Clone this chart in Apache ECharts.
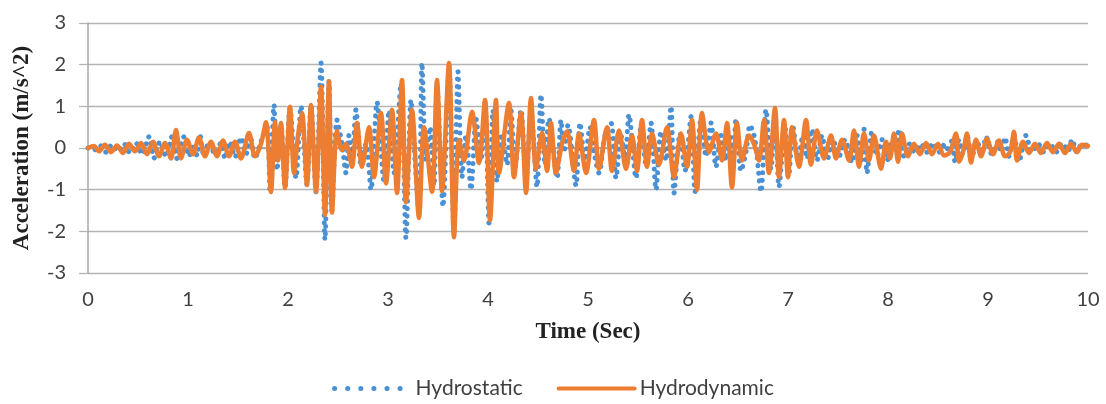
<!DOCTYPE html>
<html><head><meta charset="utf-8">
<script src="https://cdn.jsdelivr.net/npm/echarts@6/dist/echarts.min.js"></script>
<style>html,body{margin:0;padding:0;background:#fff}#c{width:1106px;height:404px}</style>
</head><body><div id="c"></div>
<script>
// Hydrodynamic (orange) turning points: time (s) and acceleration (m/s^2)
const hdTime = [0,0.06,0.11,0.17,0.23,0.29,0.35,0.41,0.47,0.53,0.59,0.65,0.71,0.77,0.83,0.88,0.93,0.99,1.05,1.11,1.17,1.23,1.29,1.35,1.41,1.47,1.53,1.61,
1.67,1.73,1.78,1.83,1.87,1.90,1.93,1.97,2.02,2.06,2.10,2.14,2.19,2.23,2.28,2.33,2.37,2.41,2.44,2.49,
2.54,2.58,2.61,2.64,2.69,2.74,2.81,2.86,2.93,2.98,3.04,3.09,3.14,3.18,3.24,3.31,3.36,3.44,3.49,3.54,3.61,3.66,
3.71,3.76,3.84,3.91,3.97,4.02,4.08,4.11,4.21,4.26,4.33,4.38,4.43,4.48,4.54,4.59,4.63,4.68,4.74,
4.79,4.86,4.91,4.98,5.06,5.11,5.19,5.24,5.31,5.38,5.44,5.49,5.54,5.59,5.64,5.71,5.79,5.86,5.93,5.99,6.04,6.09,6.14,
6.21,6.28,6.34,6.39,6.44,6.49,6.54,6.61,6.66,6.71,6.76,6.81,6.87,6.91,6.96,7.00,7.04,7.11,7.18,7.23,7.29,7.36,7.43,7.48,7.54,7.61,7.66,7.71,7.76,7.81,7.86,7.93,7.98,
8.02,8.06,8.10,8.14,8.20,8.26,8.32,8.38,8.44,8.50,8.56,8.62,8.68,8.71,8.75,8.79,8.83,8.88,8.93,8.99,9.05,9.11,9.17,9.22,9.26,9.29,9.35,9.41,9.47,9.53,9.59,9.65,9.71,9.77,9.83,9.89,9.94,10];
const hdAcc = [0,0.05,-0.08,0.08,-0.1,0.06,-0.12,0.1,-0.08,0.12,-0.15,0.15,-0.2,0.12,-0.25,0.43,-0.25,0.2,-0.15,0.25,-0.2,0.15,-0.2,0.18,-0.2,0.15,-0.25,0.36,
-0.2,0.1,0.62,-1.06,0.62,-0.3,0.6,-0.96,0.99,-0.6,0.3,0.84,-0.89,1.03,-1.05,1.47,-1.6,1.6,-1.55,0.41,
-0.05,0.1,-0.1,-0.45,0.6,-0.45,0.5,-0.7,0.84,-0.85,0.92,-1.08,1.63,-1.3,0.92,-1.68,0.5,-1.05,1.63,-1.03,2.04,-2.14,
0.19,-0.3,0.87,-0.36,1.15,-1.73,1.15,-0.6,1.08,-0.7,0.84,-1.08,1.2,-0.5,0.36,-0.55,0.6,-0.6,0.1,
0.4,-0.55,0.35,-0.6,0.67,-0.5,0.5,-0.55,0.42,-0.5,0.3,-0.55,0.67,-0.45,0.35,-0.4,0.5,-0.7,0.35,-0.45,0.67,-1.0,0.84,
-0.1,0.35,-0.3,0.6,-0.95,0.6,-0.3,0.3,0.1,-0.3,0.67,-0.6,0.96,-0.7,0.67,-0.7,0.5,-0.45,0.67,-0.4,0.42,-0.25,0.3,-0.25,0.2,-0.3,0.42,-0.45,0.35,-0.3,0.3,-0.5,0.15,
-0.25,0.35,-0.33,0.35,-0.2,0.1,-0.15,0.12,-0.15,0.1,-0.18,-0.1,0.35,-0.33,-0.1,0.35,-0.35,0.2,-0.2,0.22,-0.15,0.18,-0.2,-0.1,0.39,-0.3,0.15,-0.12,0.1,-0.12,0.12,-0.1,0.1,-0.12,0.1,-0.1,0.08,0.05];

// Hydrostatic (blue, dotted) turning points
const hsTime = [0,0.06,0.12,0.18,0.24,0.30,0.36,0.42,0.48,0.54,0.61,0.66,0.72,0.78,0.84,0.89,0.96,1.01,1.06,1.09,1.12,1.16,1.21,1.27,1.33,1.37,1.42,1.47,1.53,1.58,1.62,1.67,1.73,
1.79,1.82,1.86,1.89,1.93,1.97,2.02,2.08,2.13,2.19,2.23,2.28,2.33,2.37,2.41,2.44,2.49,
2.54,2.58,2.61,2.64,2.68,2.73,2.78,2.83,2.89,2.96,3.01,3.06,3.13,3.18,3.23,3.27,3.31,3.34,3.38,3.42,3.46,3.49,3.55,3.61,3.66,3.70,3.74,3.78,3.83,3.88,3.93,3.97,4.01,4.05,4.09,4.14,4.19,4.23,4.27,4.33,4.38,4.43,4.49,4.53,4.57,4.61,4.69,4.73,
4.76,4.80,4.88,4.92,4.97,5.02,5.06,5.11,5.17,5.23,5.28,5.33,5.37,5.41,5.48,5.53,5.58,5.63,5.68,5.73,5.78,5.83,5.86,5.92,5.97,6.03,6.07,6.13,6.18,6.23,6.28,6.33,6.38,6.42,6.45,6.48,6.53,6.58,6.62,6.67,6.73,6.78,6.83,6.87,6.91,6.97,7.01,7.05,7.10,7.15,7.19,7.24,7.29,7.34,7.39,7.45,7.51,7.57,7.64,7.69,7.73,7.76,7.79,7.84,7.89,7.94,7.99,8.05,8.08,8.11,8.16,8.21,8.27,8.33,8.39,8.45,8.51,8.57,8.61,8.64,8.67,8.71,8.75,8.79,8.84,8.89,8.94,8.98,9.04,9.10,9.13,9.17,9.21,9.26,9.31,9.38,9.44,9.50,9.56,9.62,9.68,9.74,9.80,9.84,9.89,9.94,10];
const hsAcc = [0,-0.05,0.06,-0.1,0.08,-0.08,0.1,-0.12,0.12,-0.15,0.27,-0.24,0.15,-0.2,0.27,-0.25,0.27,-0.2,0.1,-0.18,0.3,-0.2,0.15,-0.15,0.12,-0.25,0.15,-0.22,0.25,-0.15,0.3,-0.25,0.15,
0.5,-1.05,1.03,-0.53,0.55,-0.95,0.95,-0.72,1.0,-0.88,1.03,-1.05,2.04,-2.2,1.6,-1.5,0.67,
0.1,-0.6,0.3,-0.3,0.92,-0.4,0.1,-1.0,1.1,-0.8,0.9,-0.6,1.55,-2.16,1.15,-0.3,-1.6,2.04,-0.3,0.5,-0.9,1.5,-1.4,1.9,-2.0,1.83,-0.7,0.3,-1.0,0.7,-0.3,1.1,-1.8,0.9,-0.8,0.35,-0.4,0.9,-0.5,0.92,-0.8,0.9,-0.93,1.28,-0.4,0.7,-0.72,0.67,
-0.1,0.55,-0.9,0.6,-0.3,0.5,-0.1,-0.6,0.3,0.6,-0.72,0.3,-0.3,0.8,-0.72,0.5,-0.4,0.6,-1.0,0.4,-0.3,1.0,-1.08,0.35,-0.55,0.75,-1.05,0.7,-0.2,0.6,-0.45,0.3,-0.3,0.3,-0.2,0.7,-0.55,-0.1,0.55,0.2,-1.05,0.92,-0.5,0.8,-0.93,0.5,-0.6,0.5,-0.3,0.3,-0.25,0.45,-0.3,0.3,-0.3,0.2,-0.2,0.2,-0.35,0.3,-0.35,0.45,-0.6,0.4,-0.2,0.2,-0.3,0.2,-0.1,0.45,-0.2,0.1,-0.1,0.1,-0.1,0.12,-0.1,0.1,-0.1,0.2,-0.33,0.2,-0.15,0.3,-0.2,0.15,-0.15,0.27,-0.15,0.15,-0.1,0.25,-0.2,0.3,-0.33,0.3,-0.1,0.1,-0.1,0.1,-0.1,0.12,-0.08,0.2,-0.1,0.1,0.05];

const seriesNames = ['Hydrostatic', 'Hydrodynamic'];
const xTitle = 'Time (Sec)';
const yTitle = 'Acceleration (m/s^2)';

function pairs(t, a) {
  const n = Math.min(t.length, a.length);
  const out = [];
  for (let i = 0; i < n; i++) out.push([t[i], a[i]]);
  return out;
}

const labelFont = "'Liberation Sans Narrow', 'Lato', sans-serif";
const titleFont = "'Liberation Serif', 'DejaVu Serif', serif";
const gridColor = '#b4b4b4';
const blue = '#4a90d4';
const orange = '#ed7d31';
const blueDash = [0.1, 7.5];

const chart = echarts.init(document.getElementById('c'), null, {renderer: 'canvas'});
chart.setOption({
  animation: false,
  backgroundColor: '#ffffff',
  grid: {left: 88, right: 18, top: 23, bottom: 131, containLabel: false},
  legend: {
    data: [
      {name: seriesNames[0], lineStyle: {color: blue, width: 5, type: [0.1, 13], cap: 'round'}},
      {name: seriesNames[1], lineStyle: {color: orange, width: 4}}
    ],
    bottom: 0,
    left: 'center',
    itemWidth: 76,
    itemHeight: 12,
    itemGap: 34,
    itemStyle: {opacity: 0},
    textStyle: {fontFamily: labelFont, fontSize: 21, color: '#404040'}
  },
  xAxis: {
    type: 'value', min: 0, max: 10, interval: 1,
    name: xTitle, nameLocation: 'middle', nameGap: 48,
    nameTextStyle: {fontFamily: titleFont, fontWeight: 'bold', fontSize: 23, color: '#222'},
    axisLine: {show: true, lineStyle: {color: '#a8a8a8', width: 2}},
    axisTick: {show: false},
    axisLabel: {fontFamily: labelFont, fontSize: 20, color: '#404040', margin: 17},
    splitLine: {show: false}
  },
  yAxis: {
    type: 'value', min: -3, max: 3, interval: 1,
    name: yTitle, nameLocation: 'middle', nameGap: 54, nameRotate: 90,
    nameTextStyle: {fontFamily: titleFont, fontWeight: 'bold', fontSize: 23, color: '#222'},
    axisLine: {show: true, lineStyle: {color: '#a8a8a8', width: 1.5}},
    axisTick: {show: true, inside: false, length: 9, lineStyle: {color: gridColor, width: 1.3}},
    axisLabel: {fontFamily: labelFont, fontSize: 20, color: '#404040', margin: 22},
    splitLine: {show: true, lineStyle: {color: gridColor, width: 1.3}}
  },
  series: [
    {
      name: seriesNames[0], type: 'line', data: pairs(hsTime, hsAcc),
      showSymbol: false, symbol: 'none', smooth: 0.3,
      lineStyle: {color: blue, width: 5, type: blueDash, cap: 'round'},
      itemStyle: {color: blue},
      z: 2
    },
    {
      name: seriesNames[1], type: 'line', data: pairs(hdTime, hdAcc),
      showSymbol: false, symbol: 'none', smooth: 0.3,
      lineStyle: {color: orange, width: 4.5, cap: 'round', join: 'round'},
      itemStyle: {color: orange},
      z: 3
    }
  ]
});
</script>
</body></html>
